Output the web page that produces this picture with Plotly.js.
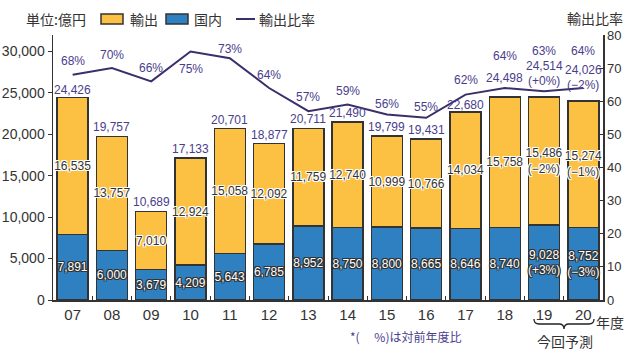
<!DOCTYPE html>
<html>
<head>
<meta charset="utf-8">
<script src="https://cdn.plot.ly/plotly-3.0.1.min.js"></script>
<style>html,body{margin:0;padding:0;background:#fff;}#chart{width:640px;height:355px;}</style>
</head>
<body>
<div id="chart"></div>
<script>
// ---- data ----
const years = ['07','08','09','10','11','12','13','14','15','16','17','18','19','20'];
const exportVals = [16535,13757,7010,12924,15058,12092,11759,12740,10999,10766,14034,15758,15486,15274];
const domesticVals = [7891,6000,3679,4209,5643,6785,8952,8750,8800,8665,8646,8740,9028,8752];
const totalVals = [24426,19757,10689,17133,20701,18877,20711,21490,19799,19431,22680,24498,24514,24026];
const ratioVals = [68,70,66,75,73,64,57,59,56,55,62,64,63,64];
const exportChg = ['','','','','','','','','','','','','(−2%)','(−1%)'];
const domesticChg = ['','','','','','','','','','','','','(+3%)','(−3%)'];
const totalChg = ['','','','','','','','','','','','','(+0%)','(−2%)'];
const leftTicks = [0,5000,10000,15000,20000,25000,30000];
const rightTicks = [0,10,20,30,40,50,60,70,80];

// ---- styles ----
const YELLOW = '#FCC042', BLUE = '#2F80C1', LINE = '#3C2D6B', PURPLE = '#4A3D8C', DARK = '#333';
const SANS = 'Arial,"Liberation Sans",sans-serif';
const CJK = '"Noto Sans CJK JP",sans-serif';
const ratioShift = [14,13,13,-17,9,13,14,14,11,11,15,32,40,37];
const totalShift = [8,9,9,9,9,9,9,9,9,9,7,19,31,31];
const chgShift = 16;

const fmt = v => v.toLocaleString('en-US');
const lab = (vals, chg) => vals.map((v,i) => fmt(v) + (chg[i] ? '<br>' + chg[i] : ''));

const darkHalo = '1px 0 0 #333, -1px 0 0 #333, 0 1px 0 #333, 0 -1px 0 #333, 1px 1px 0 #333, -1px -1px 0 #333, 1px -1px 0 #333, -1px 1px 0 #333';
const whiteHalo = '1px 0 0 #fff, -1px 0 0 #fff, 0 1px 0 #fff, 0 -1px 0 #fff, 1px 1px 0 #fff, -1px -1px 0 #fff, 1px -1px 0 #fff, -1px 1px 0 #fff';

const traces = [
  {type:'bar', name:'国内', x:years, y:domesticVals,
   marker:{color:BLUE, line:{color:DARK, width:1.5}},
   text: lab(domesticVals, domesticChg), textposition:'inside', insidetextanchor:'middle',
   textangle:0, constraintext:'none',
   textfont:{family:SANS, size:12, color:'#fff', shadow:darkHalo}, hoverinfo:'skip'},
  {type:'bar', name:'輸出', x:years, y:exportVals,
   marker:{color:YELLOW, line:{color:DARK, width:1.5}},
   text: lab(exportVals, exportChg), textposition:'inside', insidetextanchor:'middle',
   textangle:0, constraintext:'none',
   textfont:{family:SANS, size:12, color:'#333', shadow:whiteHalo}, hoverinfo:'skip'},
  {type:'scatter', mode:'lines', name:'輸出比率', x:years, y:ratioVals, yaxis:'y2',
   line:{color:LINE, width:2}, hoverinfo:'skip'}
];

// pixel -> paper helpers for decorations (plot area: x 53..603, y 35..300)
const L = 53, R = 603, T = 35, B = 300;
const px = v => (v - L) / (R - L);
const py = v => (B - v) / (B - T);

const annotations = [];
years.forEach((yr,i) => {
  annotations.push({x:i, y:totalVals[i], xref:'x', yref:'y', yanchor:'middle', showarrow:false,
    yshift: totalShift[i], text: fmt(totalVals[i]),
    font:{family:SANS, size:12, color:PURPLE}});
  if (totalChg[i]) {
    annotations.push({x:i, y:totalVals[i], xref:'x', yref:'y', yanchor:'middle', showarrow:false,
      yshift: chgShift, text: totalChg[i], font:{family:SANS, size:12, color:PURPLE}});
  }
  annotations.push({x:i, y:ratioVals[i], xref:'x', yref:'y2', yanchor:'middle', showarrow:false,
    yshift: ratioShift[i], text: ratioVals[i] + '%',
    font:{family:SANS, size:12, color:PURPLE}});
});
const txt = (t, xpx, ypx, size, color, anchor) => ({text:t, x:px(xpx), y:py(ypx), xref:'paper', yref:'paper',
  xanchor:anchor||'left', yanchor:'middle', showarrow:false, font:{family:CJK, size:size, color:color||DARK}});
annotations.push(txt('単位:億円', 24, 19, 14));
annotations.push(txt('輸出', 128, 19, 14));
annotations.push(txt('国内', 192, 19, 14));
annotations.push(txt('輸出比率', 257, 19, 14));
annotations.push(txt('輸出比率', 595, 18, 14, DARK, 'center'));
annotations.push(txt('年度', 594, 322, 14));
annotations.push(txt('今回予測', 565, 341, 14, DARK, 'center'));
annotations.push(txt('*(　 %)は対前年度比', 348, 336, 12, PURPLE));

// brace under 19-20
const bx0 = 534, bx1 = 594, bxc = (bx0+bx1)/2, by0 = 319, bym = 324, byt = 329;
const P = (x,y) => px(x).toFixed(4) + ',' + py(y).toFixed(4);
const bracePath = 'M' + P(bx0,by0) + ' Q' + P(bx0,bym) + ' ' + P(bx0+5,bym) +
  ' L' + P(bxc-5,bym) + ' Q' + P(bxc,bym) + ' ' + P(bxc,byt) +
  ' Q' + P(bxc,bym) + ' ' + P(bxc+5,bym) + ' L' + P(bx1-5,bym) + ' Q' + P(bx1,bym) + ' ' + P(bx1,by0);

const shapes = [
  {type:'rect', xref:'paper', yref:'paper', x0:px(101), x1:px(123), y0:py(24), y1:py(14),
   fillcolor:YELLOW, line:{color:DARK, width:1.5}},
  {type:'rect', xref:'paper', yref:'paper', x0:px(166), x1:px(188), y0:py(24), y1:py(14),
   fillcolor:BLUE, line:{color:DARK, width:1.5}},
  {type:'line', xref:'paper', yref:'paper', x0:px(236), x1:px(255), y0:py(19), y1:py(19),
   line:{color:LINE, width:2}},
  {type:'path', xref:'paper', yref:'paper', path:bracePath, line:{color:'#222', width:1.3}}
];

const layout = {
  width:640, height:355,
  margin:{l:L, r:640-R, t:T, b:355-B},
  paper_bgcolor:'#fff', plot_bgcolor:'#fff',
  barmode:'stack', bargap:0.21, showlegend:false,
  font:{family:SANS, color:DARK},
  xaxis:{type:'category', range:[-0.5,13.5], showline:true, linecolor:DARK, linewidth:1.5,
    ticks:'inside', tickson:'boundaries', ticklen:4, tickcolor:DARK,
    tickfont:{family:SANS, size:15, color:DARK}, showgrid:false, fixedrange:true},
  yaxis:{range:[0,32000], tickvals:leftTicks, ticktext:leftTicks.map(fmt), showline:true, linecolor:DARK,
    linewidth:1.5, ticks:'outside', ticklen:4, tickcolor:DARK, showgrid:false, zeroline:false,
    tickfont:{family:SANS, size:14, color:DARK}},
  yaxis2:{range:[0,80], overlaying:'y', side:'right', tickvals:rightTicks, ticksuffix:'%',
    showline:true, linecolor:DARK, linewidth:1.5, ticks:'inside', ticklen:5, tickcolor:DARK,
    showgrid:false, zeroline:false, tickfont:{family:SANS, size:13, color:DARK}},
  annotations:annotations, shapes:shapes
};

Plotly.newPlot('chart', traces, layout, {displayModeBar:false, staticPlot:true});
</script>
</body>
</html>
